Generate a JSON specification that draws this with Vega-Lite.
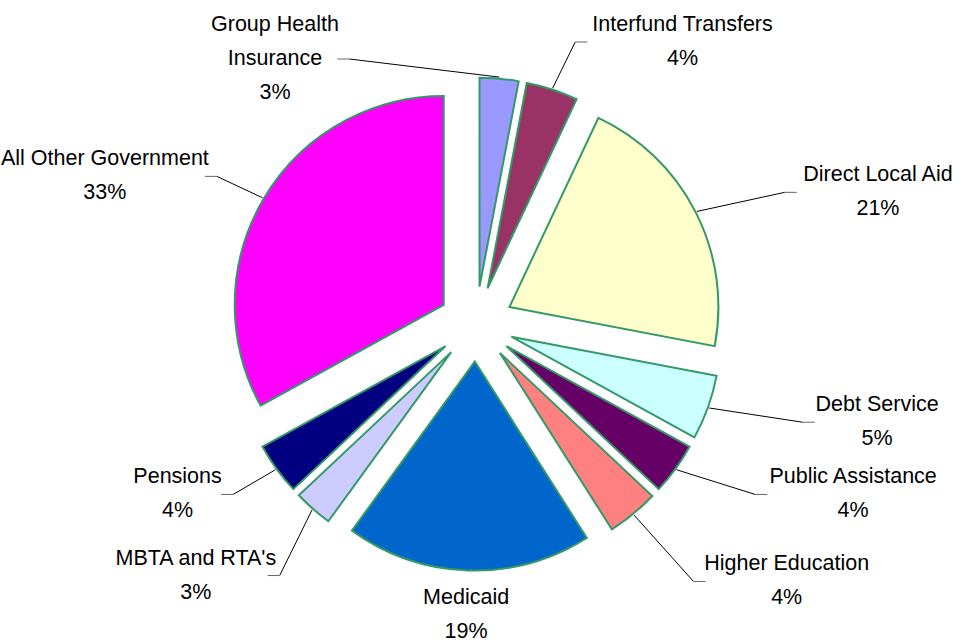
{
  "$schema": "https://vega.github.io/schema/vega-lite/v6.json",
  "width": 952,
  "height": 638,
  "autosize": {"type": "none"},
  "padding": {"left": 0, "top": 5, "right": 23, "bottom": 0},
  "background": "white",
  "config": {"view": {"stroke": null}},
  "data": {
    "values": [
      {"category": "Group Health\nInsurance", "pct": 3},
      {"category": "Interfund Transfers", "pct": 4},
      {"category": "Direct Local Aid", "pct": 21},
      {"category": "Debt Service", "pct": 5},
      {"category": "Public Assistance", "pct": 4},
      {"category": "Higher Education", "pct": 4},
      {"category": "Medicaid", "pct": 19},
      {"category": "MBTA and RTA's", "pct": 3},
      {"category": "Pensions", "pct": 4},
      {"category": "All Other Government", "pct": 33}
    ]
  },
  "transform": [{"stack": "pct", "groupby": [], "as": ["p0", "p1"]}],
  "layer": [
    {
      "mark": {
        "type": "arc",
        "outerRadius": 209,
        "stroke": "#339966",
        "strokeWidth": 2,
        "strokeJoin": "miter",
        "x": {"expr": "width/2 + 37.5*sin(PI*(datum.p0+datum.p1)/100)"},
        "y": {"expr": "height/2 - 37.5*cos(PI*(datum.p0+datum.p1)/100)"}
      },
      "encoding": {
        "theta": {"field": "p0", "type": "quantitative", "stack": null, "scale": {"domain": [0, 100]}},
        "theta2": {"field": "p1"},
        "color": {
          "field": "category",
          "type": "nominal",
          "legend": null,
          "scale": {
            "domain": ["Group Health\nInsurance", "Interfund Transfers", "Direct Local Aid", "Debt Service", "Public Assistance", "Higher Education", "Medicaid", "MBTA and RTA's", "Pensions", "All Other Government"],
            "range": ["#9999FF", "#993366", "#FFFFCC", "#CCFFFF", "#660066", "#FF8080", "#0066CC", "#CCCCFF", "#000080", "#FF00FF"]
          }
        }
      }
    },
    {
      "transform": [{"filter": "abs(sin((PI*(datum.p0+datum.p1)/100)<0.175?(PI*(datum.p0+datum.p1)/100)-0.55:(PI*(datum.p0+datum.p1)/100))) > 0.25"}],
      "mark": {"type": "rule", "color": "black", "strokeWidth": 1},
      "encoding": {
        "x": {"value": {"expr": "width/2 + 248*sin(PI*(datum.p0+datum.p1)/100)"}},
        "y": {"value": {"expr": "height/2 - 248*cos(PI*(datum.p0+datum.p1)/100)"}},
        "x2": {"value": {"expr": "width/2 + (sin((PI*(datum.p0+datum.p1)/100)<0.175?(PI*(datum.p0+datum.p1)/100)-0.55:(PI*(datum.p0+datum.p1)/100))>0?360:315)*sin((PI*(datum.p0+datum.p1)/100)<0.175?(PI*(datum.p0+datum.p1)/100)-0.55:(PI*(datum.p0+datum.p1)/100)) - 12*(sin((PI*(datum.p0+datum.p1)/100)<0.175?(PI*(datum.p0+datum.p1)/100)-0.55:(PI*(datum.p0+datum.p1)/100))>0.25?1:sin((PI*(datum.p0+datum.p1)/100)<0.175?(PI*(datum.p0+datum.p1)/100)-0.55:(PI*(datum.p0+datum.p1)/100))<-0.25?-1:0)"}},
        "y2": {"value": {"expr": "clamp(height/2 - 290*cos((PI*(datum.p0+datum.p1)/100)<0.175?(PI*(datum.p0+datum.p1)/100)-0.55:(PI*(datum.p0+datum.p1)/100)), 34*(length(split(datum.category,'\\n'))+1)+3, height-62) + (cos((PI*(datum.p0+datum.p1)/100)<0.175?(PI*(datum.p0+datum.p1)/100)-0.55:(PI*(datum.p0+datum.p1)/100))>0.7?-17:cos((PI*(datum.p0+datum.p1)/100)<0.175?(PI*(datum.p0+datum.p1)/100)-0.55:(PI*(datum.p0+datum.p1)/100))<-0.7?17:0)*(length(split(datum.category,'\\n'))+1)"}}
      }
    },
    {
      "transform": [{"filter": "abs(sin((PI*(datum.p0+datum.p1)/100)<0.175?(PI*(datum.p0+datum.p1)/100)-0.55:(PI*(datum.p0+datum.p1)/100))) > 0.25"}],
      "mark": {"type": "rule", "color": "#666666", "strokeWidth": 1},
      "encoding": {
        "x": {"value": {"expr": "width/2 + (sin((PI*(datum.p0+datum.p1)/100)<0.175?(PI*(datum.p0+datum.p1)/100)-0.55:(PI*(datum.p0+datum.p1)/100))>0?360:315)*sin((PI*(datum.p0+datum.p1)/100)<0.175?(PI*(datum.p0+datum.p1)/100)-0.55:(PI*(datum.p0+datum.p1)/100)) - 12*(sin((PI*(datum.p0+datum.p1)/100)<0.175?(PI*(datum.p0+datum.p1)/100)-0.55:(PI*(datum.p0+datum.p1)/100))>0.25?1:sin((PI*(datum.p0+datum.p1)/100)<0.175?(PI*(datum.p0+datum.p1)/100)-0.55:(PI*(datum.p0+datum.p1)/100))<-0.25?-1:0)"}},
        "x2": {"value": {"expr": "width/2 + (sin((PI*(datum.p0+datum.p1)/100)<0.175?(PI*(datum.p0+datum.p1)/100)-0.55:(PI*(datum.p0+datum.p1)/100))>0?360:315)*sin((PI*(datum.p0+datum.p1)/100)<0.175?(PI*(datum.p0+datum.p1)/100)-0.55:(PI*(datum.p0+datum.p1)/100))"}},
        "y": {"value": {"expr": "clamp(height/2 - 290*cos((PI*(datum.p0+datum.p1)/100)<0.175?(PI*(datum.p0+datum.p1)/100)-0.55:(PI*(datum.p0+datum.p1)/100)), 34*(length(split(datum.category,'\\n'))+1)+3, height-62) + (cos((PI*(datum.p0+datum.p1)/100)<0.175?(PI*(datum.p0+datum.p1)/100)-0.55:(PI*(datum.p0+datum.p1)/100))>0.7?-17:cos((PI*(datum.p0+datum.p1)/100)<0.175?(PI*(datum.p0+datum.p1)/100)-0.55:(PI*(datum.p0+datum.p1)/100))<-0.7?17:0)*(length(split(datum.category,'\\n'))+1)"}},
        "y2": {"value": {"expr": "clamp(height/2 - 290*cos((PI*(datum.p0+datum.p1)/100)<0.175?(PI*(datum.p0+datum.p1)/100)-0.55:(PI*(datum.p0+datum.p1)/100)), 34*(length(split(datum.category,'\\n'))+1)+3, height-62) + (cos((PI*(datum.p0+datum.p1)/100)<0.175?(PI*(datum.p0+datum.p1)/100)-0.55:(PI*(datum.p0+datum.p1)/100))>0.7?-17:cos((PI*(datum.p0+datum.p1)/100)<0.175?(PI*(datum.p0+datum.p1)/100)-0.55:(PI*(datum.p0+datum.p1)/100))<-0.7?17:0)*(length(split(datum.category,'\\n'))+1)"}}
      }
    },
    {
      "mark": {
        "type": "text",
        "font": "Liberation Sans, Arial, sans-serif",
        "fontSize": 21.5,
        "lineHeight": 34,
        "color": "black",
        "align": "center",
        "baseline": "middle",
        "text": {"expr": "split(datum.category + '\\n' + datum.pct + '%', '\\n')"},
        "x": {"expr": "width/2 + (sin((PI*(datum.p0+datum.p1)/100)<0.175?(PI*(datum.p0+datum.p1)/100)-0.55:(PI*(datum.p0+datum.p1)/100))>0?360:315)*sin((PI*(datum.p0+datum.p1)/100)<0.175?(PI*(datum.p0+datum.p1)/100)-0.55:(PI*(datum.p0+datum.p1)/100)) + (sin((PI*(datum.p0+datum.p1)/100)<0.175?(PI*(datum.p0+datum.p1)/100)-0.55:(PI*(datum.p0+datum.p1)/100))>0.25?1:sin((PI*(datum.p0+datum.p1)/100)<0.175?(PI*(datum.p0+datum.p1)/100)-0.55:(PI*(datum.p0+datum.p1)/100))<-0.25?-1:0)*(6+4.7*length(split(datum.category,'\\n')[0]))"},
        "y": {"expr": "clamp(height/2 - 290*cos((PI*(datum.p0+datum.p1)/100)<0.175?(PI*(datum.p0+datum.p1)/100)-0.55:(PI*(datum.p0+datum.p1)/100)), 34*(length(split(datum.category,'\\n'))+1)+3, height-62) + (cos((PI*(datum.p0+datum.p1)/100)<0.175?(PI*(datum.p0+datum.p1)/100)-0.55:(PI*(datum.p0+datum.p1)/100))>0.7?-17:cos((PI*(datum.p0+datum.p1)/100)<0.175?(PI*(datum.p0+datum.p1)/100)-0.55:(PI*(datum.p0+datum.p1)/100))<-0.7?17:0)*(length(split(datum.category,'\\n'))+1) - 17*length(split(datum.category,'\\n'))"}
      },
      "encoding": {}
    }
  ]
}
